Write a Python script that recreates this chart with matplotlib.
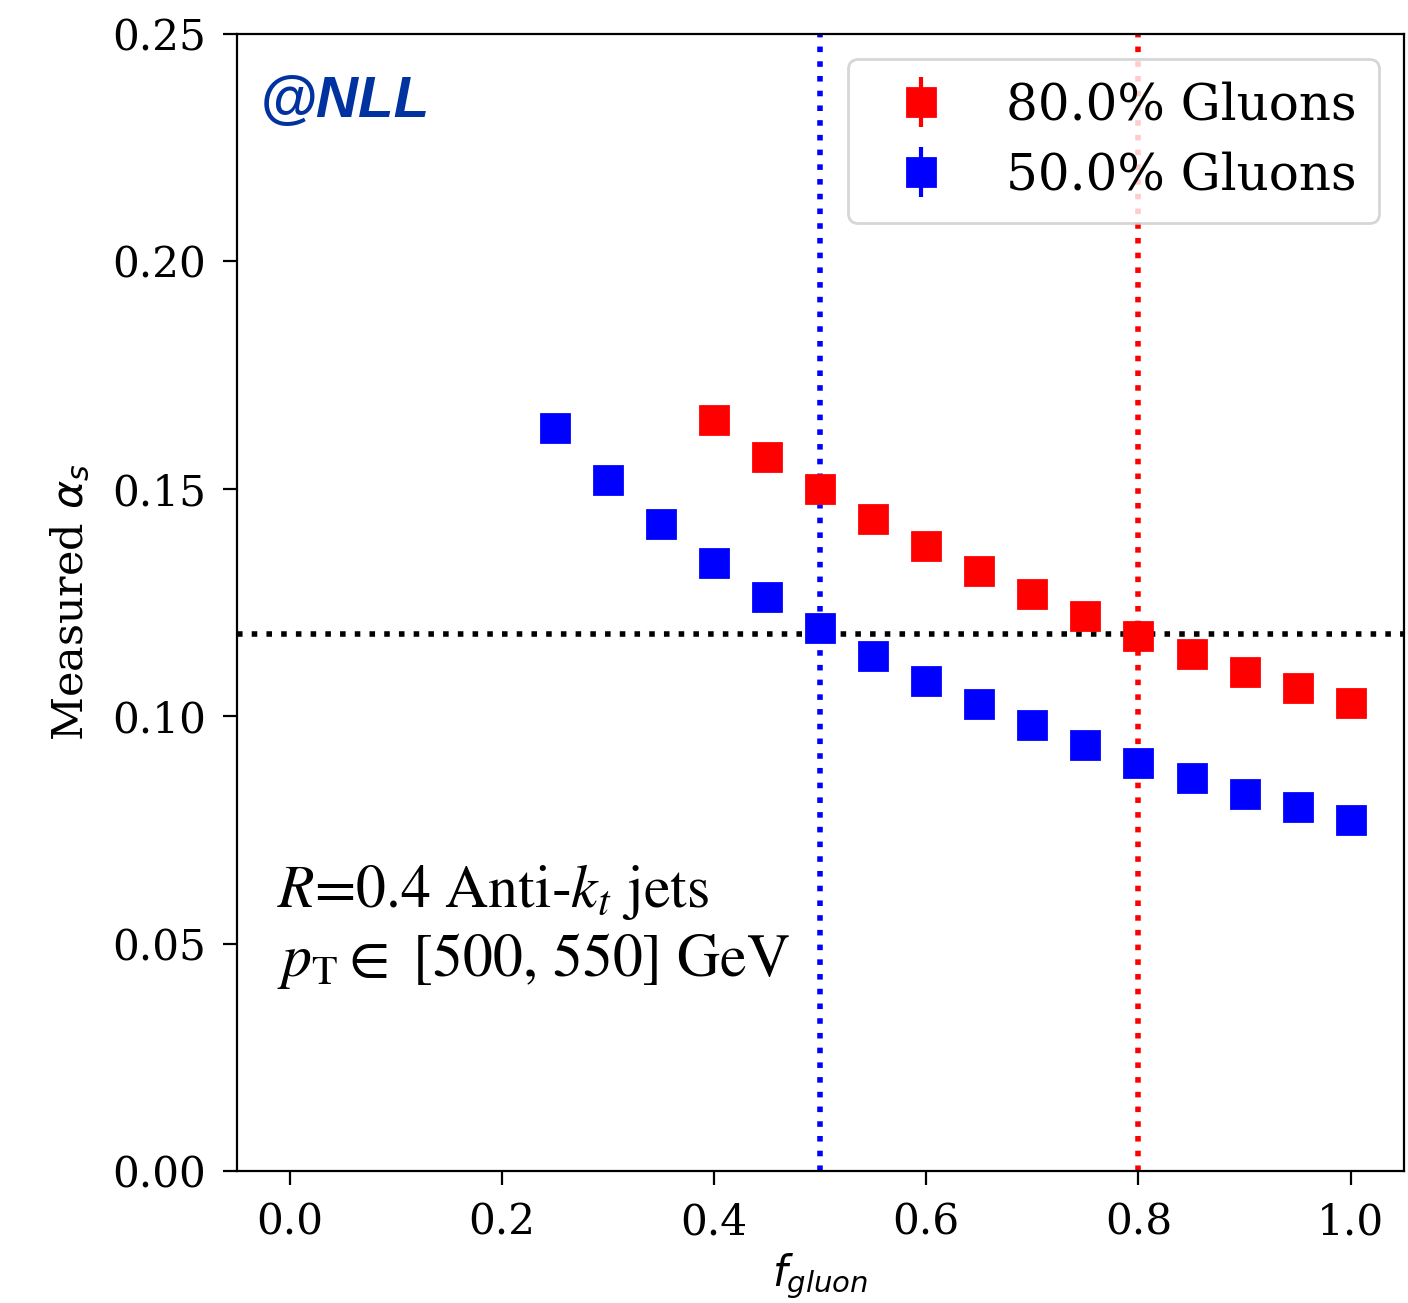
import numpy as np
import matplotlib.pyplot as plt

# fractions de gluons et alpha_s mesuré
f_red = [0.40, 0.45, 0.50, 0.55, 0.60, 0.65, 0.70, 0.75, 0.80, 0.85, 0.90, 0.95, 1.00]
a_red = [0.1651, 0.1570, 0.1500, 0.1434, 0.1374, 0.1319, 0.1269, 0.1220, 0.1176, 0.1137, 0.1097, 0.1062, 0.1029]
err_red = [0.001] * len(f_red)

f_blue = [0.25, 0.30, 0.35, 0.40, 0.45, 0.50, 0.55, 0.60, 0.65, 0.70, 0.75, 0.80, 0.85, 0.90, 0.95, 1.00]
a_blue = [0.1634, 0.1519, 0.1423, 0.1337, 0.1262, 0.1194, 0.1132, 0.1077, 0.1027, 0.0981, 0.0937, 0.0897, 0.0864, 0.0829, 0.0800, 0.0772]
err_blue = [0.001] * len(f_blue)

alpha_true = 0.118
true_red = 0.8
true_blue = 0.5

plt.rcParams['font.family'] = 'DejaVu Serif'

fig = plt.figure(figsize=(7.04, 6.515), dpi=200)
ax = fig.add_axes([0.168, 0.1013, 0.829, 0.8726])

ax.errorbar(f_red, a_red, yerr=err_red, fmt='s', color='red', ms=10, label='80.0% Gluons')
ax.errorbar(f_blue, a_blue, yerr=err_blue, fmt='s', color='blue', ms=10, label='50.0% Gluons')

ax.axhline(alpha_true, color='black', ls=':', lw=2)
ax.axvline(true_blue, color='blue', ls=':', lw=2)
ax.axvline(true_red, color='red', ls=':', lw=2)

ax.set_xlim(-0.05, 1.05)
ax.set_ylim(0, 0.25)
ax.set_xticks([0.0, 0.2, 0.4, 0.6, 0.8, 1.0])
ax.set_yticks([0.0, 0.05, 0.10, 0.15, 0.20, 0.25])
ax.tick_params(labelsize=15.2, length=5, pad=6)
ax.set_xlabel(r'$f_{gluon}$', fontsize=15, labelpad=3)
ax.set_ylabel(r'Measured $\alpha_s$', fontsize=15.5, labelpad=7)

ax.text(0.02, 0.94, '@NLL', transform=ax.transAxes, fontsize=21, color='#0033a0',
        fontweight='bold', fontstyle='italic', family='Liberation Sans', va='center')
ax.text(0.035, 0.215, r'$R$=0.4 Anti-$k_t$ jets' + '\n' + r'$p_{\mathrm{T}} \in$ [500, 550] GeV',
        transform=ax.transAxes, fontsize=21.5, family='STIXGeneral', math_fontfamily='stix',
        va='center', linespacing=1.2)

ax.legend(loc='upper right', fontsize=18, handletextpad=0.7, handlelength=2.0,
          borderpad=0.45, labelspacing=0.4)

plt.savefig('out.png', dpi=200)
